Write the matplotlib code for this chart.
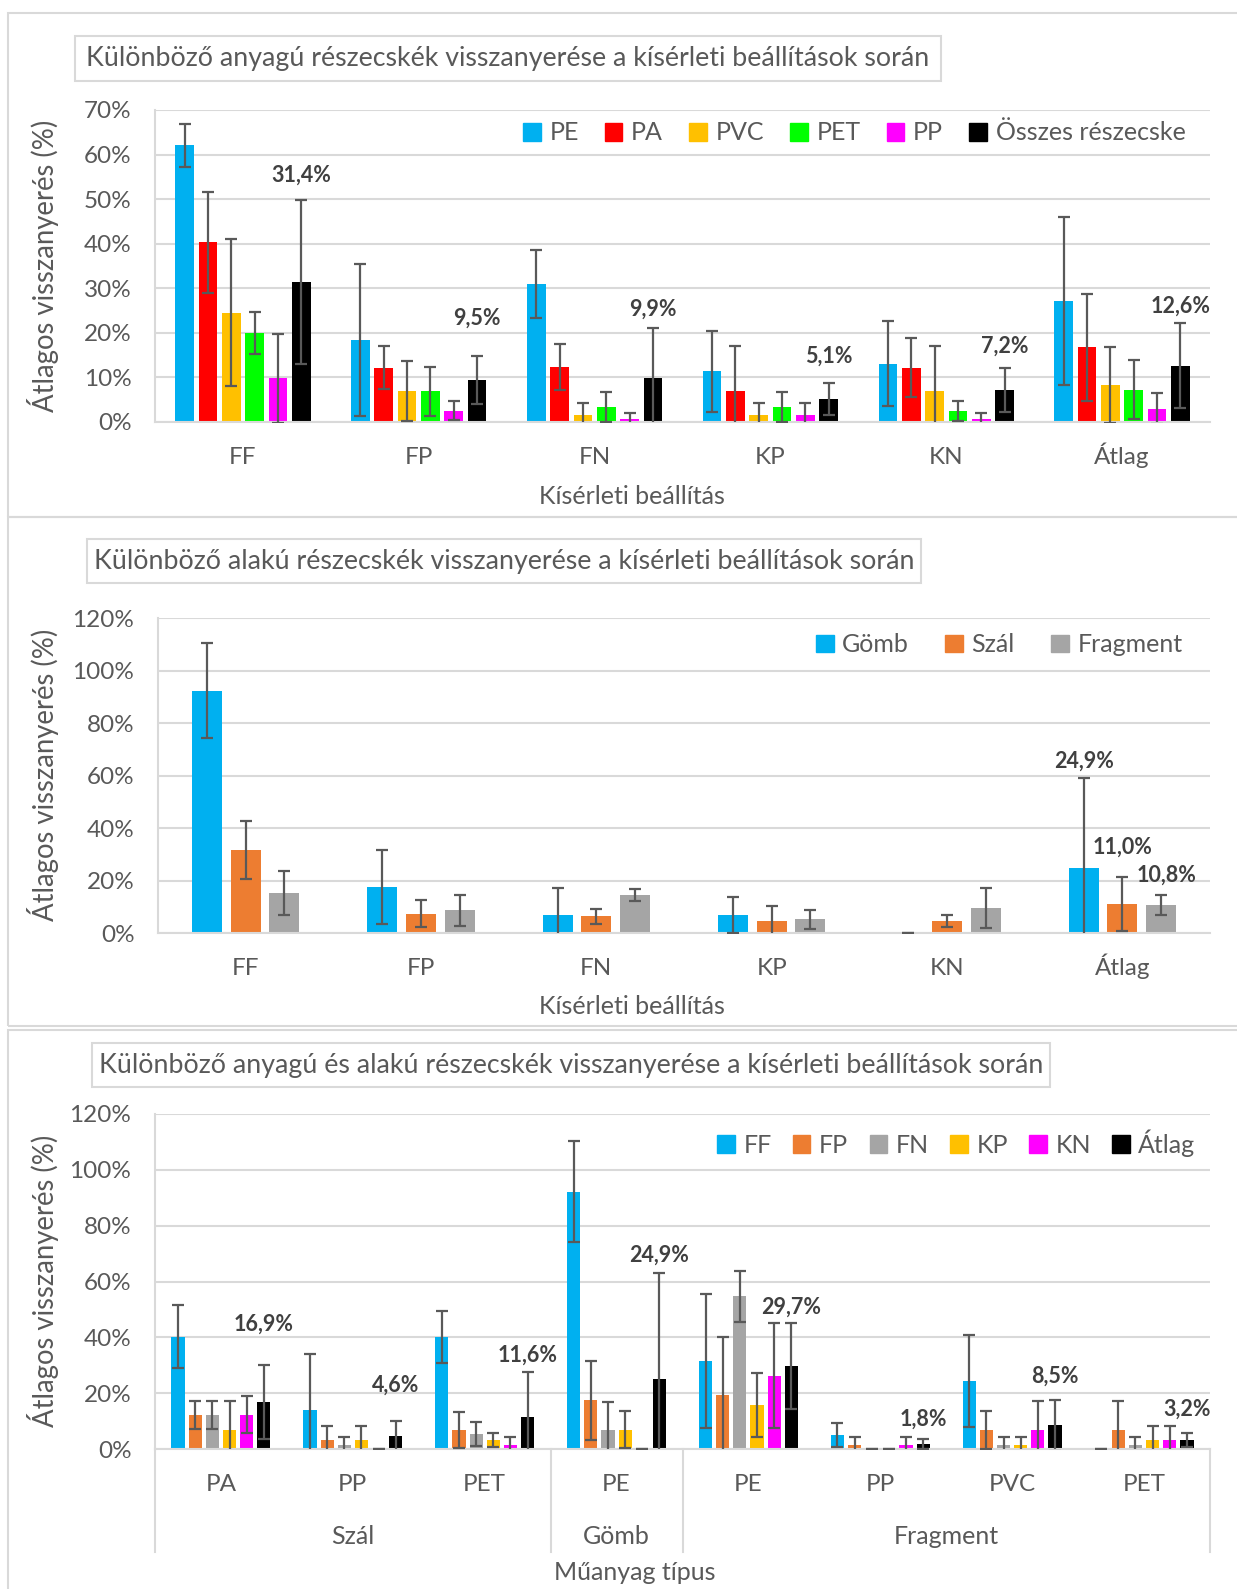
import matplotlib
matplotlib.use('Agg')
import numpy as np
import matplotlib.pyplot as plt
from matplotlib.patches import Rectangle
from matplotlib.lines import Line2D
from matplotlib.ticker import FuncFormatter

plt.rcParams['font.family'] = ['Lato', 'DejaVu Sans']

W, H = 1237, 1589
TXT = '#595959'
GRID = '#D9D9D9'

# ---- chart 1: recovery by material ----
p1_cats = ['FF', 'FP', 'FN', 'KP', 'KN', 'Átlag']
p1_series = ['PE', 'PA', 'PVC', 'PET', 'PP', 'Összes részecske']
p1_pe = [62.1, 18.4, 30.9, 11.4, 13.1, 27.2]
p1_pa = [40.3, 12.2, 12.3, 6.9, 12.2, 16.8]
p1_pvc = [24.5, 6.9, 1.6, 1.6, 6.9, 8.3]
p1_pet = [20.0, 6.9, 3.4, 3.4, 2.5, 7.2]
p1_pp = [9.8, 2.5, 0.7, 1.6, 0.7, 3.0]
p1_all = [31.4, 9.5, 9.9, 5.1, 7.2, 12.6]
p1_pe_err = [4.8, 17.0, 7.6, 9.1, 9.5, 18.8]
p1_pa_err = [11.3, 4.9, 5.1, 10.2, 6.6, 12.0]
p1_pvc_err = [16.5, 6.7, 2.6, 2.6, 10.2, 8.5]
p1_pet_err = [4.7, 5.5, 3.4, 3.4, 2.2, 6.6]
p1_pp_err = [10.0, 2.1, 1.3, 2.6, 1.3, 3.4]
p1_all_err = [18.3, 5.4, 11.2, 3.6, 5.0, 9.5]

# ---- chart 2: recovery by shape ----
p2_cats = ['FF', 'FP', 'FN', 'KP', 'KN', 'Átlag']
p2_series = ['Gömb', 'Szál', 'Fragment']
p2_gomb = [92.3, 17.5, 7.0, 6.9, 0.0, 24.9]
p2_szal = [31.6, 7.4, 6.3, 4.6, 4.6, 11.0]
p2_frag = [15.2, 8.6, 14.5, 5.2, 9.5, 10.8]
p2_gomb_err = [18.0, 14.0, 10.0, 6.9, 0.0, 34.0]
p2_szal_err = [11.2, 5.0, 3.0, 5.6, 2.2, 10.3]
p2_frag_err = [8.5, 6.0, 2.2, 3.7, 7.7, 3.8]

# ---- chart 3: recovery by material and shape ----
p3_cats = ['PA', 'PP', 'PET', 'PE', 'PE', 'PP', 'PVC', 'PET']
p3_groups = ['Szál', 'Gömb', 'Fragment']
p3_group_sizes = [3, 1, 4]
p3_series = ['FF', 'FP', 'FN', 'KP', 'KN', 'Átlag']
p3_ff = [40.2, 14.0, 40.2, 92.2, 31.6, 5.0, 24.5, 0.0]
p3_fp = [12.1, 3.3, 6.8, 17.4, 19.2, 1.6, 6.8, 6.9]
p3_fn = [12.3, 1.6, 5.3, 6.9, 54.7, 0.0, 1.6, 1.6]
p3_kp = [6.9, 3.3, 3.3, 6.9, 15.9, 0.0, 1.6, 3.3]
p3_kn = [12.3, 0.0, 1.6, 0.0, 26.3, 1.6, 6.9, 3.3]
p3_avg = [16.9, 4.6, 11.6, 24.9, 29.7, 1.8, 8.5, 3.2]
p3_ff_err = [11.3, 20.0, 9.4, 18.0, 24.1, 4.4, 16.5, 0.0]
p3_fp_err = [5.0, 4.9, 6.5, 14.0, 20.8, 2.6, 6.8, 10.2]
p3_fn_err = [5.0, 2.6, 4.3, 10.0, 9.1, 0.0, 2.6, 2.6]
p3_kp_err = [10.2, 5.0, 2.6, 6.6, 11.5, 0.0, 2.6, 5.1]
p3_kn_err = [6.6, 0.0, 2.6, 0.0, 18.9, 2.6, 10.2, 5.1]
p3_avg_err = [13.2, 5.5, 16.1, 38.1, 15.3, 1.9, 9.2, 2.5]


def fx(x):
    return x / W


def fy(y):
    return 1 - y / H


def make_axes(fig, left, right, top, bottom):
    return fig.add_axes([fx(left), fy(bottom), (right - left) / W, (bottom - top) / H])


def style_axes(ax, ymax, step, ncat):
    ax.set_xlim(-0.5, ncat - 0.5)
    ax.set_ylim(0, ymax)
    ax.set_yticks(np.arange(0, ymax + 0.1, step))
    ax.yaxis.set_major_formatter(FuncFormatter(lambda v, p: f'{v:.0f}%'))
    ax.grid(axis='y', color=GRID, lw=1.5)
    ax.set_axisbelow(True)
    for s in ['top', 'right']:
        ax.spines[s].set_visible(False)
    for s in ['left', 'bottom']:
        ax.spines[s].set_color(GRID)
        ax.spines[s].set_linewidth(1.5)
    ax.tick_params(length=0, labelsize=17.5, colors=TXT)
    ax.tick_params(axis='x', pad=30)
    ax.tick_params(axis='y', pad=17)


def set_cats(ax, x, cats):
    ax.set_xticks(x)
    ax.set_xticklabels(cats)
    for t in ax.get_xticklabels():
        t.set_va('baseline')


def draw_bars(ax, vals, errs, colors, width, step):
    n = len(vals)
    x = np.arange(len(vals[0]))
    for i in range(n):
        pos = x + (i - (n - 1) / 2) * step
        ax.bar(pos, vals[i], width, color=colors[i], zorder=2)
        ax.errorbar(pos, vals[i], yerr=errs[i], fmt='none', ecolor=TXT,
                    elinewidth=1.6, capsize=4.6, capthick=1.6, zorder=3)
    return x


def value_labels(ax, x, vals, errs, pads, offset):
    for xi, v, e, p in zip(x, vals, errs, pads):
        ax.text(xi + offset, v + e + p, f'{v:.1f}%'.replace('.', ','),
                ha='center', va='center', fontsize=15.5, fontweight='bold',
                color='#404040', zorder=4)


def title_box(fig, text, x0, x1, y0, y1):
    fig.add_artist(Rectangle((fx(x0), fy(y1)), (x1 - x0) / W, (y1 - y0) / H,
                             transform=fig.transFigure, fill=False,
                             ec=GRID, lw=1.5))
    fig.text(fx((x0 + x1) / 2), fy((y0 + y1) / 2), text, ha='center',
             va='center', fontsize=19.3, color=TXT)


def legend(ax, fig, handles, labels, xr, yc, ncol, colsp):
    ax.legend(handles, labels, loc='center right', ncol=ncol,
              bbox_to_anchor=(fx(xr), fy(yc)), bbox_transform=fig.transFigure,
              frameon=False, fontsize=18, handlelength=0.7, handleheight=0.7,
              handletextpad=0.35, columnspacing=colsp, borderpad=0,
              labelcolor=TXT)


fig = plt.figure(figsize=(W / 100, H / 100), dpi=100)

# panel frames
for (y0, y1) in [(13, 517), (517, 1026), (1030, 1600)]:
    fig.add_artist(Rectangle((fx(8), fy(y1)), (1260 - 8) / W, (y1 - y0) / H,
                             transform=fig.transFigure, fill=False,
                             ec=GRID, lw=1.5))

# ---------------- chart 1 ----------------
c1 = ['#00B0F0', '#FF0000', '#FFC000', '#00FF00', '#FF00FF', '#000000']
ax1 = make_axes(fig, 155, 1210, 110, 422)
style_axes(ax1, 70, 10, len(p1_cats))
x1 = draw_bars(ax1, [p1_pe, p1_pa, p1_pvc, p1_pet, p1_pp, p1_all],
               [p1_pe_err, p1_pa_err, p1_pvc_err, p1_pet_err, p1_pp_err, p1_all_err],
               c1, 0.106, 0.1326)
set_cats(ax1, x1, p1_cats)
value_labels(ax1, x1, p1_all, p1_all_err, [5.7, 8.4, 4.1, 6.0, 4.8, 3.8], 2.5 * 0.1326)
h1 = [Rectangle((0, 0), 1, 1, color=c) for c in c1]
legend(ax1, fig, h1, p1_series, 1198, 133, 6, 1.05)
title_box(fig, 'Különböző anyagú részecskék visszanyerése a kísérleti beállítások során',
          75, 941, 36, 81)
fig.text(fx(43), fy(266), 'Átlagos visszanyerés (%)', rotation=90, ha='center',
         va='center', fontsize=19.8, color=TXT)
fig.text(fx(632), fy(497), 'Kísérleti beállítás', ha='center', va='center',
         fontsize=18, color=TXT)

# ---------------- chart 2 ----------------
c2 = ['#00B0F0', '#ED7D31', '#A5A5A5']
ax2 = make_axes(fig, 158, 1210, 618, 933)
style_axes(ax2, 120, 20, len(p2_cats))
x2 = draw_bars(ax2, [p2_gomb, p2_szal, p2_frag],
               [p2_gomb_err, p2_szal_err, p2_frag_err], c2, 0.171, 0.221)
set_cats(ax2, x2, p2_cats)
last = len(p2_cats) - 1
for i, (v, e, p) in enumerate(zip([p2_gomb, p2_szal, p2_frag],
                                  [p2_gomb_err, p2_szal_err, p2_frag_err],
                                  [6.5, 11.5, 7.6])):
    value_labels(ax2, [last], [v[last]], [e[last]], [p], (i - 1) * 0.221 + (0.03 if i == 2 else 0))
h2 = [Rectangle((0, 0), 1, 1, color=c) for c in c2]
legend(ax2, fig, h2, p2_series, 1195, 645, 3, 1.45)
title_box(fig, 'Különböző alakú részecskék visszanyerése a kísérleti beállítások során',
          87, 921, 539, 583)
fig.text(fx(43), fy(775), 'Átlagos visszanyerés (%)', rotation=90, ha='center',
         va='center', fontsize=19.8, color=TXT)
fig.text(fx(632), fy(1007), 'Kísérleti beállítás', ha='center', va='center',
         fontsize=18, color=TXT)

# ---------------- chart 3 ----------------
c3 = ['#00B0F0', '#ED7D31', '#A5A5A5', '#FFC000', '#FF00FF', '#000000']
ax3 = make_axes(fig, 155, 1210, 1114, 1449)
style_axes(ax3, 120, 20, len(p3_cats))
x3 = draw_bars(ax3, [p3_ff, p3_fp, p3_fn, p3_kp, p3_kn, p3_avg],
               [p3_ff_err, p3_fp_err, p3_fn_err, p3_kp_err, p3_kn_err, p3_avg_err],
               c3, 0.10, 0.13)
set_cats(ax3, x3, p3_cats)
value_labels(ax3, x3, p3_avg, p3_avg_err, [14.7, 12.9, 6.0, 6.3, 5.7, 7.0, 8.3, 8.4], 2.5 * 0.13)
h3 = [Rectangle((0, 0), 1, 1, color=c) for c in c3]
legend(ax3, fig, h3, p3_series, 1208, 1143, 6, 0.85)
title_box(fig, 'Különböző anyagú és alakú részecskék visszanyerése a kísérleti beállítások során',
          92, 1050, 1043, 1087)

# group separators and group labels below the category labels
trans = ax3.get_xaxis_transform()
edges = np.concatenate([[0], np.cumsum(p3_group_sizes)]) - 0.5
for e in edges:
    ax3.add_line(Line2D([e, e], [0, -103 / 335], transform=trans, color=GRID,
                        lw=1.5, clip_on=False))
for g, a, b in zip(p3_groups, edges[:-1], edges[1:]):
    ax3.text((a + b) / 2, -88 / 335, g, transform=trans, ha='center', va='center',
             fontsize=18, color=TXT)
fig.text(fx(43), fy(1281), 'Átlagos visszanyerés (%)', rotation=90, ha='center',
         va='center', fontsize=19.8, color=TXT)
fig.text(fx(635), fy(1573), 'Műanyag típus', ha='center', va='center',
         fontsize=18, color=TXT)

fig.savefig('out.png', dpi=100)
